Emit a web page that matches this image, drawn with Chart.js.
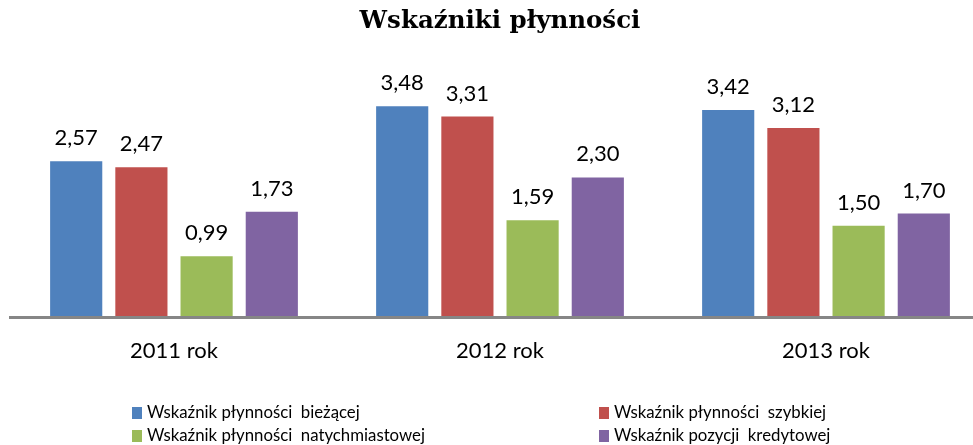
<!DOCTYPE html>
<html><head><meta charset="utf-8">
<script src="https://cdn.jsdelivr.net/npm/chart.js@4"></script>
<style>
html,body{margin:0;padding:0;background:#fff;overflow:hidden;width:973px;height:445px}
#wrap{position:relative;width:990px;height:445px}
</style></head>
<body><div id="wrap"><canvas id="c" width="990" height="445"></canvas></div>
<script>
const categories = ['2011 rok', '2012 rok', '2013 rok'];
const seriesNames = [
  'Wskaźnik płynności  bieżącej',
  'Wskaźnik płynności  szybkiej',
  'Wskaźnik płynności  natychmiastowej',
  'Wskaźnik pozycji  kredytowej'
];
const biezaca = [2.57, 3.48, 3.42];
const szybka = [2.47, 3.31, 3.12];
const natychmiastowa = [0.99, 1.59, 1.50];
const kredytowa = [1.73, 2.30, 1.70];
const seriesValues = [biezaca, szybka, natychmiastowa, kredytowa];
const colors = ['#4F81BD', '#C0504D', '#9BBB59', '#8064A2'];
const yMin = 0, yMax = 4;

const datasets = seriesValues.map((vals, i) => ({
  label: seriesNames[i],
  data: vals,
  backgroundColor: colors[i],
  borderWidth: 0,
  categoryPercentage: 0.8,
  barPercentage: 0.8
}));

const axisLine = {
  id: 'axisLine',
  afterDatasetsDraw(chart) {
    const ctx = chart.ctx, a = chart.chartArea;
    const y0 = chart.scales.y.getPixelForValue(0);
    ctx.save();
    ctx.fillStyle = '#868686';
    ctx.fillRect(a.left - 2, y0, chart.width, 3);
    ctx.restore();
  }
};

const valueLabels = {
  id: 'valueLabels',
  afterDatasetsDraw(chart) {
    const ctx = chart.ctx;
    ctx.save();
    ctx.font = '22px Lato';
    ctx.fillStyle = '#000';
    ctx.textAlign = 'center';
    ctx.textBaseline = 'alphabetic';
    chart.data.datasets.forEach((ds, di) => {
      chart.getDatasetMeta(di).data.forEach((el, i) => {
        const t = ds.data[i].toFixed(2).replace('.', ',');
        ctx.fillText(t, el.x, el.y - 16);
      });
    });
    ctx.restore();
  }
};

const customLegend = {
  id: 'customLegend',
  afterDraw(chart) {
    const ctx = chart.ctx;
    const colX = [132, 599], rowY = [407, 430];
    ctx.save();
    ctx.font = '16.8px Lato';
    ctx.fillStyle = '#000';
    ctx.textBaseline = 'middle';
    ctx.textAlign = 'left';
    chart.data.datasets.forEach((ds, i) => {
      const x = colX[i % 2], y = rowY[Math.floor(i / 2)];
      ctx.fillStyle = ds.backgroundColor;
      ctx.fillRect(x, y, 10, 12);
      ctx.fillStyle = '#000';
      ctx.fillText(ds.label, x + 15, y + 6);
    });
    ctx.restore();
  }
};

new Chart(document.getElementById('c'), {
  type: 'bar',
  data: { labels: categories, datasets },
  options: {
    responsive: false,
    animation: false,
    layout: { padding: { left: 11, right: 1, top: 0, bottom: 0 } },
    plugins: {
      legend: { display: false },
      tooltip: { enabled: false },
      title: {
        display: true,
        text: 'Wskaźniki płynności',
        color: '#000',
        font: { family: 'DejaVu Serif', size: 24.5, weight: 'bold', lineHeight: 1 },
        padding: { top: 9, bottom: 41.5 }
      }
    },
    scales: {
      x: {
        grid: { display: false, drawTicks: false },
        border: { display: false },
        ticks: { color: '#000', font: { family: 'Lato', size: 22 }, padding: 22 },
        afterFit(s) { s.height = 445 - 316; }
      },
      y: { display: false, min: yMin, max: yMax }
    }
  },
  plugins: [axisLine, valueLabels, customLegend]
});
</script>
</body></html>
